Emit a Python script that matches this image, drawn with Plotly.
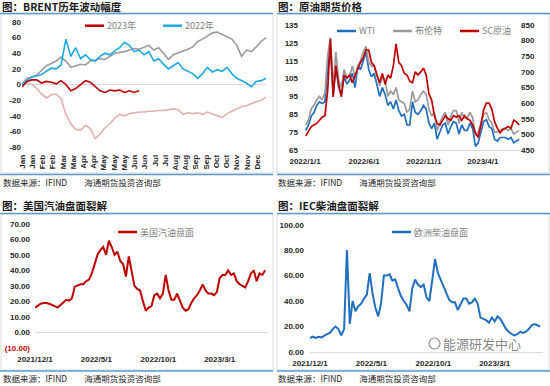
import plotly.graph_objects as go
import pandas as pd
import numpy as np

# ---------------- data ----------------
# Panel 1: BRENT yearly change, by trading-day index
DAYS_FULL = list(range(0, 251, 5))
DAYS_2023 = list(range(0, 121, 5))
MONTH_LABELS = ["Jan", "Jan", "Feb", "Feb", "Mar", "Mar", "Apr", "Apr", "May", "May", "May", "Jun",
                "Jun", "Jul", "Jul", "Aug", "Aug", "Sep", "Sep", "Oct", "Oct", "Nov", "Nov", "Dec"]
BRENT_2023 = [-3, 4, 6, 6, 2, 4, 3, 1, 5, 0, -8, -5, 0, 5, 3, -2, -8, -10, -7, -8, -7, -10, -8, -10, -8]
BRENT_2022 = [0, 5, 10, 11, 13, 17, 21, 20, 25, 58, 36, 47, 33, 38, 32, 30, 36, 40, 38, 43, 47, 54, 50, 42, 44,
              38, 42, 30, 33, 26, 20, 24, 28, 20, 17, 14, 8, 14, 22, 16, 19, 17, 22, 14, 8, 5, 2, -3, 4, 5, 8]
BRENT_2021 = [0, 8, 9, 12, 18, 24, 27, 30, 35, 30, 22, 24, 26, 25, 30, 31, 33, 32, 36, 40, 41, 42, 44, 46, 45,
              48, 50, 44, 47, 40, 32, 38, 40, 42, 45, 48, 55, 58, 62, 66, 67, 64, 60, 58, 50, 36, 44, 42, 48, 55, 60]
BRENT_2020 = [0, 2, 0, -5, -12, -17, -13, -12, -18, -38, -50, -57, -58, -52, -56, -69, -63, -55, -50, -43, -38,
              -40, -37, -36, -35, -35, -34, -34, -33, -33, -32, -31, -32, -38, -36, -37, -36, -38, -35, -37, -40,
              -42, -37, -34, -30, -28, -27, -24, -22, -20, -16]
P1_YTICKS = list(range(-80, 81, 20))

# Panel 2: crude futures, weekly
DATES_CRUDE = pd.date_range("2022-01-03", periods=79, freq="7D")
WTI = [76, 79, 84, 86, 90, 92, 91, 92, 110, 123, 96, 112, 100, 96, 106, 102, 104, 108, 100, 112,
       110, 115, 120, 110, 106, 108, 102, 95, 100, 96, 90, 92, 88, 93, 87, 84, 85, 79, 79, 92,
       86, 85, 87, 90, 88, 80, 77, 80, 71, 75, 79, 80, 74, 78, 81, 80, 74, 79, 76, 76,
       80, 77, 67, 69, 75, 81, 82, 78, 77, 71, 70, 72, 72, 72, 71, 72, 69, 70, 71]
BRENT = [79, 82, 88, 90, 93, 95, 93, 97, 118, 128, 100, 120, 104, 100, 110, 106, 106, 112, 106, 112,
         115, 120, 123, 114, 112, 112, 107, 101, 106, 104, 95, 98, 96, 100, 93, 92, 91, 86, 88, 98,
         92, 93, 96, 98, 96, 88, 84, 86, 76, 80, 84, 86, 79, 84, 87, 87, 80, 86, 83, 83,
         86, 83, 73, 75, 80, 85, 86, 82, 80, 75, 75, 76, 77, 77, 76, 77, 74, 75, 76]
SC = [495, 510, 525, 530, 535, 545, 555, 560, 640, 805, 620, 720, 660, 620, 690, 680, 690, 665, 690, 710,
      730, 745, 770, 770, 730, 720, 690, 665, 695, 660, 690, 680, 720, 790, 730, 720, 695, 690, 670, 665,
      700, 690, 700, 712, 690, 630, 610, 560, 535, 530, 545, 560, 550, 545, 560, 555, 560, 545, 560, 550,
      545, 530, 505, 490, 530, 580, 600, 600, 580, 540, 520, 505, 515, 520, 525, 520, 545, 540, 530]

# Panels 3 & 4: cracks, weekly
DATES_CRACK = pd.date_range("2021-12-01", periods=82, freq="7D")
US_GASOLINE = [16, 17.5, 18.5, 19, 19, 18.5, 18, 17, 16, 17.5, 19, 21, 20.5, 22, 29.5, 30, 31, 31, 33, 34,
               38, 44, 50, 53, 55, 50, 59, 55, 50, 52, 46, 44, 36, 49, 40, 30, 28, 27, 20, 14,
               16, 17, 24, 25, 22, 25, 37, 27, 21, 21, 25, 21, 16, 14, 15, 19, 22, 24, 27, 31,
               27, 25, 25, 24, 26, 35, 37, 37, 40, 37, 38, 33, 31, 30, 29, 33, 38, 40, 33, 38, 37, 40]
EU_DIESEL = [11, 12, 11, 12, 11.5, 13, 14, 15, 18, 20, 18, 13, 18, 80, 22, 40, 32, 36, 38, 42,
             45, 62, 46, 35, 28, 38, 60, 60, 61, 56, 57, 50, 44, 40, 37, 32, 50, 57, 53, 51,
             53, 43, 40, 56, 73, 62, 57, 52, 46, 41, 39, 39, 33, 38, 42, 42, 38, 39, 42, 38,
             27, 26, 25, 23, 27, 24, 28, 26, 22, 18, 16, 14, 13, 14, 16, 15, 16, 18, 21, 22, 21, 20]

CRUDE_TICKS = ["2022-01-01", "2022-06-01", "2022-11-01", "2023-04-01"]
CRUDE_TICKTEXT = ["2022/1/1", "2022/6/1", "2022/11/1", "2023/4/1"]
CRACK_TICKS = ["2021-12-01", "2022-05-01", "2022-10-01", "2023-03-01"]
CRACK_TICKTEXT = ["2021/12/1", "2022/5/1", "2022/10/1", "2023/3/1"]

# ---------------- styling ----------------
W, H = 550, 386
RED = "#c00000"
SKY = "#1aa9e6"
GRAY = "#9a9a9a"
PINK = "#e2b0b0"
BLUE = "#1f6fc0"
FRAME_BLUE = "#5b9bd5"
CJK = "Noto Sans CJK SC"
NUMFONT = dict(family="Liberation Sans, Arial", size=8, color="#262626", weight="bold")


def px(x):
    return x / W


def py(y):
    return 1 - y / H


fig = go.Figure()

# Panel 1
fig.add_trace(go.Scatter(x=DAYS_FULL, y=BRENT_2020, xaxis="x", yaxis="y", mode="lines",
                         line=dict(color=PINK, width=1.6), name="2020年", showlegend=False))
fig.add_trace(go.Scatter(x=DAYS_FULL, y=BRENT_2021, xaxis="x", yaxis="y", mode="lines",
                         line=dict(color=GRAY, width=1.6), name="2021年", showlegend=False))
fig.add_trace(go.Scatter(x=DAYS_FULL, y=BRENT_2022, xaxis="x", yaxis="y", mode="lines",
                         line=dict(color=SKY, width=1.6), name="2022年", showlegend=False))
fig.add_trace(go.Scatter(x=DAYS_2023, y=BRENT_2023, xaxis="x", yaxis="y", mode="lines",
                         line=dict(color=RED, width=1.6), name="2023年", showlegend=False))

# Panel 2
fig.add_trace(go.Scatter(x=DATES_CRUDE, y=WTI, xaxis="x2", yaxis="y2", mode="lines",
                         line=dict(color=BLUE, width=1.7), name="WTI", showlegend=False))
fig.add_trace(go.Scatter(x=DATES_CRUDE, y=BRENT, xaxis="x2", yaxis="y2", mode="lines",
                         line=dict(color=GRAY, width=1.7), name="布伦特", showlegend=False))
fig.add_trace(go.Scatter(x=DATES_CRUDE, y=SC, xaxis="x2", yaxis="y3", mode="lines",
                         line=dict(color=RED, width=1.7), name="SC原油", showlegend=False))

# Panel 3
fig.add_trace(go.Scatter(x=DATES_CRACK, y=US_GASOLINE, xaxis="x3", yaxis="y4", mode="lines",
                         line=dict(color=RED, width=2), name="美国汽油盘面", showlegend=False))
# Panel 4
fig.add_trace(go.Scatter(x=DATES_CRACK, y=EU_DIESEL, xaxis="x4", yaxis="y5", mode="lines",
                         line=dict(color=BLUE, width=2), name="欧洲柴油盘面", showlegend=False))

common_x = dict(showgrid=False, zeroline=False, ticks="", tickfont=NUMFONT, fixedrange=True,
                automargin=False, ticklabeloverflow="allow")
common_y = dict(showgrid=False, ticks="", tickfont=NUMFONT, showline=False, fixedrange=True,
                automargin=False, ticklabeloverflow="allow", ticklabelposition="outside")

# panel-1 value axis: 0.784 px per unit, 80 sits at y=21.8 px; range extended upward a little
P1_TOP = 90
fig.update_layout(
    template="none",
    width=W, height=H, autosize=False,
    margin=dict(l=0, r=0, t=0, b=0, pad=0),
    paper_bgcolor="white", plot_bgcolor="white",
    font=dict(family=CJK, color="#262626"),
    showlegend=False,
    xaxis=dict(domain=[px(22), px(266)], range=[0, 250], anchor="y",
               tickmode="array", tickvals=list(np.linspace(0, 241, 24)), ticktext=MONTH_LABELS,
               tickangle=-90, showline=False, ticklabelstandoff=5, **common_x),
    yaxis=dict(domain=[py(147.3), py(147.3 - (P1_TOP + 80) * 0.784)], range=[-80, P1_TOP],
               tickmode="array", tickvals=P1_YTICKS,
               ticktext=[str(v) for v in P1_YTICKS], anchor="x",
               zeroline=True, zerolinecolor="#d9d9d9", zerolinewidth=1, **common_y),
    xaxis2=dict(domain=[px(305), px(520)], type="date", range=["2022-01-01", "2023-07-05"], anchor="y2",
                tickmode="array", tickvals=CRUDE_TICKS, ticktext=CRUDE_TICKTEXT, ticklabelstandoff=3,
                showline=True, linecolor="#d9d9d9", **common_x),
    yaxis2=dict(domain=[py(150), py(25)], range=[65, 135], tickmode="array",
                tickvals=list(range(65, 136, 10)), anchor="x2", zeroline=False, ticklabelstandoff=6,
                **common_y),
    yaxis3=dict(range=[450, 850], tickmode="array", tickvals=list(range(450, 851, 50)),
                overlaying="y2", side="right", anchor="x2", zeroline=False, **common_y),
    xaxis3=dict(domain=[px(35), px(268)], type="date", range=["2021-12-01", "2023-06-28"], anchor="y4",
                tickmode="array", tickvals=CRACK_TICKS, ticktext=CRACK_TICKTEXT, ticklabelstandoff=5,
                showline=False, **common_x),
    yaxis4=dict(domain=[py(348), py(223.7)], range=[-10, 70], tickmode="array",
                tickvals=list(range(-10, 71, 10)),
                ticktext=["<span style='color:#c00000'>(10.00)</span>"] + ["%.2f" % v for v in range(0, 71, 10)],
                anchor="x3", zeroline=True, zerolinecolor="#d9d9d9", zerolinewidth=1, ticklabelstandoff=4,
                **common_y),
    xaxis4=dict(domain=[px(310), px(543)], type="date", range=["2021-12-01", "2023-06-28"], anchor="y5",
                tickmode="array", tickvals=CRACK_TICKS, ticktext=CRACK_TICKTEXT, ticklabelstandoff=3,
                showline=True, linecolor="#d9d9d9", **common_x),
    yaxis5=dict(domain=[py(352), py(224.7)], range=[0, 100], tickmode="array",
                tickvals=list(range(0, 101, 20)), ticktext=["%.2f" % v for v in range(0, 101, 20)],
                anchor="x4", zeroline=False, ticklabelstandoff=5, **common_y),
)

shapes = []
annotations = []


def hline(x0, x1, y, color, width):
    shapes.append(dict(type="line", xref="paper", yref="paper", x0=px(x0), x1=px(x1),
                       y0=py(y), y1=py(y), line=dict(color=color, width=width)))


def rect(x0, x1, y0, y1, color):
    shapes.append(dict(type="rect", xref="paper", yref="paper", x0=px(x0), x1=px(x1),
                       y0=py(y1), y1=py(y0), line=dict(color=color, width=1), layer="below"))


def text(x, y, s, size, color="#262626", bold=False, anchor="left", family=CJK):
    annotations.append(dict(xref="paper", yref="paper", x=px(x), y=py(y), text=s, showarrow=False,
                            xanchor=anchor, yanchor="middle", borderpad=0,
                            font=dict(family=family, size=size, color=color,
                                      weight="bold" if bold else "normal")))


def legend_item(x0, y, color, label):
    hline(x0, x0 + 19, y, color, 2.5)
    text(x0 + 21, y, label, 9, "#7f7f7f")


# chart frames
rect(1, 273, 14, 173, "#d9d9d9")
rect(277, 549, 14, 173, "#d9d9d9")
rect(1, 273, 214, 370, "#d9d9d9")
rect(277, 549, 214, 370, "#d9d9d9")

# title & source rules
for (a, b) in [(0, 273), (277, 550)]:
    hline(a, b, 13.5, FRAME_BLUE, 1.5)
    hline(a, b, 174.5, FRAME_BLUE, 1.5)
    hline(a, b, 213.5, FRAME_BLUE, 1.5)
    hline(a, b, 371, FRAME_BLUE, 1.5)

text(1, 6.5, "图：BRENT历年波动幅度", 10.5, "#1a1a1a", True)
text(277, 6.5, "图：原油期货价格", 10.5, "#1a1a1a", True)
text(1, 205.5, "图：美国汽油盘面裂解", 10.5, "#1a1a1a", True)
text(277, 205.5, "图：IEC柴油盘面裂解", 10.5, "#1a1a1a", True)

SRC = "数据来源：IFIND　　海通期货投资咨询部"
text(2, 182, SRC, 8.5, "#262626")
text(277, 182, SRC, 8.5, "#262626")
text(2, 377.5, SRC, 8.5, "#262626")
text(277, 377.5, SRC, 8.5, "#262626")

# legends
legend_item(85, 25.7, RED, "2023年")
legend_item(163, 25.7, SKY, "2022年")
legend_item(337, 31, BLUE, "WTI")
legend_item(393, 31, GRAY, "布伦特")
legend_item(460, 31, RED, "SC原油")
legend_item(118, 232, RED, "美国汽油盘面")
legend_item(392, 232, BLUE, "欧洲柴油盘面")

# watermark (kept clear of the tick labels)
shapes.append(dict(type="circle", xref="paper", yref="paper", x0=px(429), x1=px(440),
                   y0=py(349), y1=py(338), line=dict(color="rgba(110,110,110,0.8)", width=1.2)))
text(442, 343.5, "能源研发中心", 13, "rgba(110,110,110,0.85)")

fig.update_layout(shapes=shapes, annotations=annotations)
fig.write_html("out.html",
               config={"displayModeBar": False, "staticPlot": True},
               post_script="document.body.style.margin='0';document.body.style.padding='0';"
                           "document.documentElement.style.overflow='hidden';")
